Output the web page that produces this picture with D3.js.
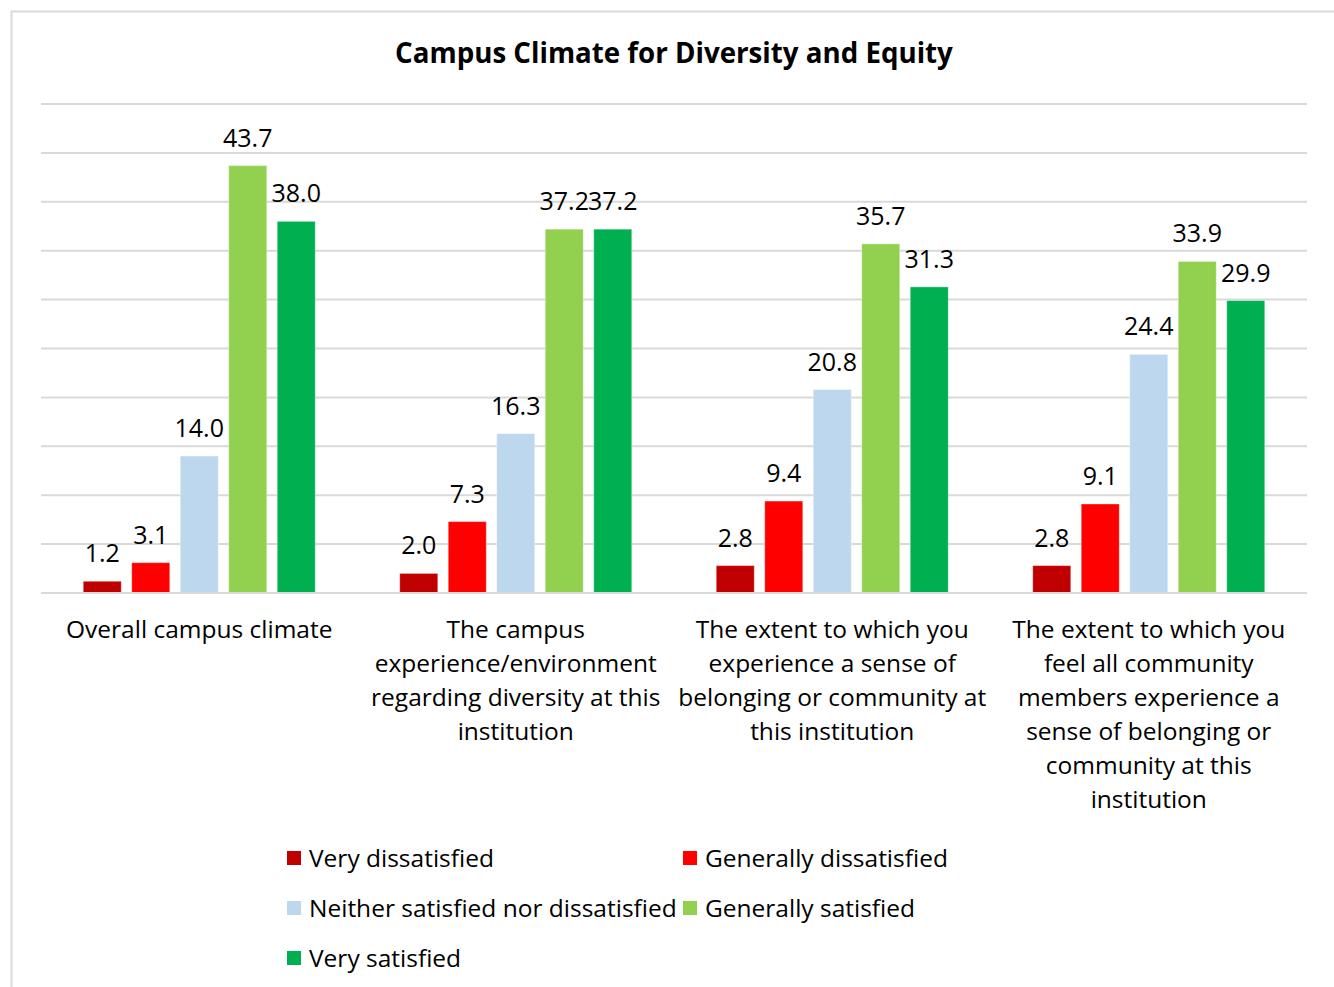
<!DOCTYPE html>
<html><head><meta charset="utf-8">
<script src="https://cdn.jsdelivr.net/npm/d3@7"></script>
<style>
body{margin:0;background:#fff;}
text{font-family:"Open Sans",sans-serif;fill:#000;}
</style></head>
<body><svg id="c" width="1334" height="987"></svg>
<script>
const categories = [
  ["Overall campus climate"],
  ["The campus", "experience/environment", "regarding diversity at this", "institution"],
  ["The extent to which you", "experience a sense of", "belonging or community at", "this institution"],
  ["The extent to which you", "feel all community", "members experience a", "sense of belonging or", "community at this", "institution"]
];
const seriesNames = ["Very dissatisfied","Generally dissatisfied","Neither satisfied nor dissatisfied","Generally satisfied","Very satisfied"];
const seriesColors = ["#C00000","#FF0000","#BDD7EE","#92D050","#00B050"];
const veryDissatisfied = [1.2, 2.0, 2.8, 2.8];
const generallyDissatisfied = [3.1, 7.3, 9.4, 9.1];
const neither = [14.0, 16.3, 20.8, 24.4];
const generallySatisfied = [43.7, 37.2, 35.7, 33.9];
const verySatisfied = [38.0, 37.2, 31.3, 29.9];
const yTicks = [0,5,10,15,20,25,30,35,40,45,50];
const title = "Campus Climate for Diversity and Equity";

const seriesValues = [veryDissatisfied, generallyDissatisfied, neither, generallySatisfied, verySatisfied];
const svg = d3.select("#c");

svg.append("rect").attr("x",11.5).attr("y",11.5).attr("width",1340).attr("height",990)
  .attr("fill","none").attr("stroke","#D9D9D9").attr("stroke-width",2);

const pL=41, pR=1307, pT=104, pB=593;
const x0 = d3.scaleBand().domain(d3.range(categories.length)).range([pL,pR]).padding(0);
const x1 = d3.scaleBand().domain(d3.range(seriesNames.length)).range([0,x0.bandwidth()])
  .paddingInner(0.216).paddingOuter(0.871);
const y = d3.scaleLinear().domain([0,50]).range([pB,pT]);

svg.append("g").selectAll("line").data(yTicks).join("line")
  .attr("x1",pL).attr("x2",pR).attr("y1",d=>y(d)).attr("y2",d=>y(d))
  .attr("stroke","#D9D9D9").attr("stroke-width",2);

svg.append("text").attr("x",(pL+pR)/2).attr("y",63).attr("text-anchor","middle")
  .style("font-weight","bold").style("font-size","27.7px").text(title);

const gGroups = svg.append("g").selectAll("g").data(categories).join("g")
  .attr("transform",(d,i)=>`translate(${x0(i)},0)`);
gGroups.each(function(cat, ci){
  const g = d3.select(this);
  const data = seriesValues.map((vals,si)=>({si, v: vals[ci]}));
  g.selectAll("rect").data(data).join("rect")
    .attr("x",d=>x1(d.si)).attr("width",x1.bandwidth())
    .attr("y",d=>y(d.v)).attr("height",d=>y(0)-y(d.v))
    .attr("fill",d=>seriesColors[d.si])
    .attr("stroke","rgba(255,255,255,0.35)").attr("stroke-width",1);
  g.selectAll("text.lbl").data(data).join("text").attr("class","lbl")
    .attr("x",d=>x1(d.si)+x1.bandwidth()/2).attr("y",d=>y(d.v)-19)
    .attr("text-anchor","middle").style("font-size","25px")
    .text(d=>d.v.toFixed(1));
  const t = g.append("text").attr("text-anchor","middle").style("font-size","24.5px");
  cat.forEach((line,li)=>{
    t.append("tspan").attr("x",x0.bandwidth()/2).attr("y",638+li*34).text(line);
  });
});

svg.append("line").attr("x1",pL).attr("x2",pR).attr("y1",y(0)).attr("y2",y(0))
  .attr("stroke","#D9D9D9").attr("stroke-width",2);

const legendPos = [[287,858],[683,858],[287,908],[683,908],[287,958]];
const lg = svg.append("g").selectAll("g").data(seriesNames).join("g")
  .attr("transform",(d,i)=>`translate(${legendPos[i][0]},${legendPos[i][1]})`);
lg.append("rect").attr("x",0).attr("y",-7).attr("width",14).attr("height",14)
  .attr("fill",(d,i)=>seriesColors[i]);
lg.append("text").attr("x",22).attr("y",9).style("font-size","24.5px").text(d=>d);
</script></body></html>
